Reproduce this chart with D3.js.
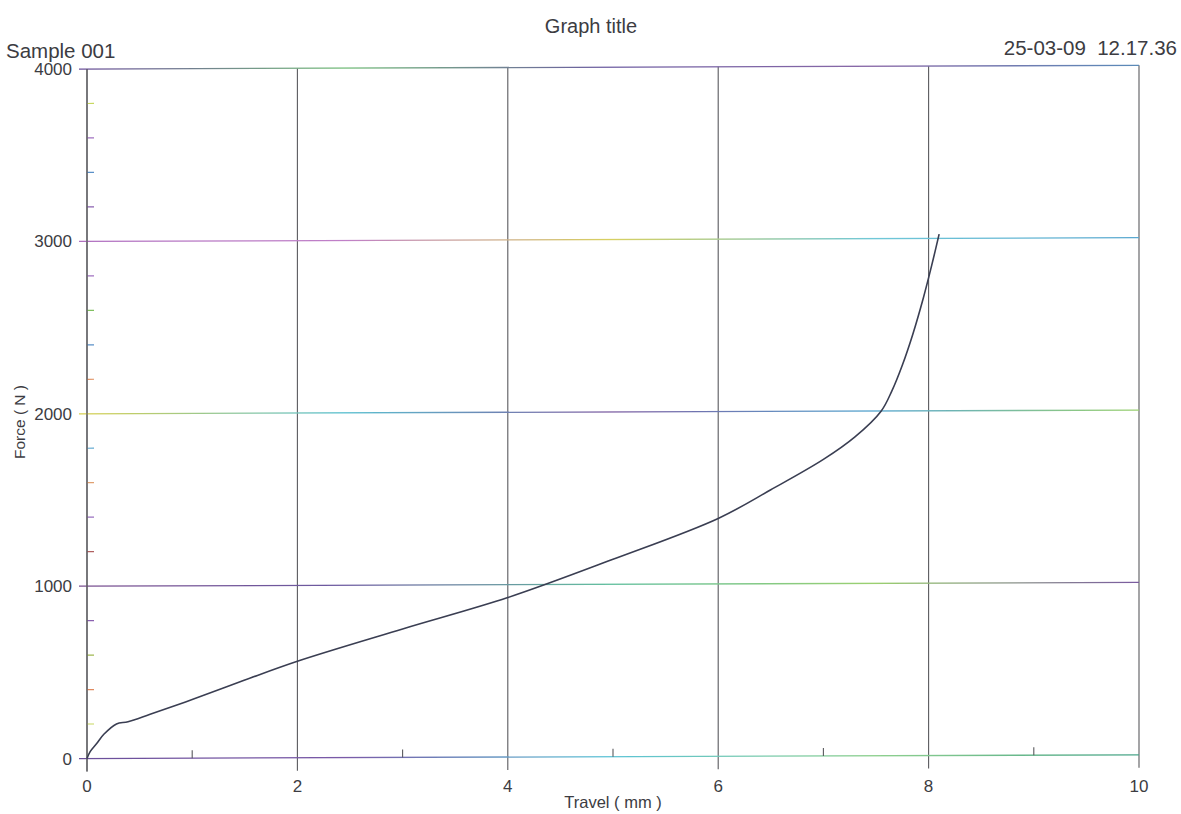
<!DOCTYPE html>
<html>
<head>
<meta charset="utf-8">
<script src="https://cdn.jsdelivr.net/npm/d3@7"></script>
<style>
  html, body { margin: 0; padding: 0; background: #ffffff; }
  svg { display: block; }
  text { font-family: "Liberation Sans", Arial, sans-serif; fill: #3c3c42; }
</style>
</head>
<body>
<svg id="chart" width="1181" height="814"></svg>
<script>
// ---- data ----
const title = "Graph title";
const sampleLabel = "Sample 001";
const stampLabel = "25-03-09\u00a0\u00a012.17.36";
const xLabel = "Travel ( mm )";
const yLabel = "Force ( N )";

const xMajorTicks = [0, 2, 4, 6, 8, 10];
const xMinorTicks = [1, 3, 5, 7, 9];
const yMajorTicks = [0, 1000, 2000, 3000, 4000];
const yMinorTicks = [200, 400, 600, 800, 1200, 1400, 1600, 1800, 2200, 2400, 2600, 2800, 3200, 3400, 3600, 3800];

const travel = [0, 0.03, 0.09, 0.16, 0.28, 0.39, 0.6, 1.0, 1.5, 2.0, 3.0, 4.0, 5.0, 6.0, 6.5, 7.0, 7.3, 7.55, 7.65, 7.75, 7.85, 7.95, 8.03, 8.1];
const force  = [0, 40, 85, 140, 200, 212, 255, 340, 452, 560, 745, 925, 1145, 1380, 1545, 1720, 1850, 2000, 2115, 2265, 2445, 2655, 2845, 3025];

// ---- layout ----
const svg = d3.select("#chart");
const pLeft = 87, pRight = 1139, pTop = 69, pBottom = 758.5;
const x = d3.scaleLinear().domain([0, 10]).range([pLeft, pRight]);
const y = d3.scaleLinear().domain([0, 4000]).range([pBottom, pTop]);

// colour palettes for the scanned rainbow-ish grid lines (style only)
const hGridColors = {
  0:    ["#6b4f9a", "#7a5aa8", "#5bc3d6", "#8fd08f", "#4aa58a"],
  1000: ["#7a5090", "#6c5aa0", "#64c0a0", "#9bd070", "#7a5aa0"],
  2000: ["#d8d050", "#5bc0d0", "#7a5aa0", "#5aa8d0", "#9ad070"],
  3000: ["#b070c0", "#c080c8", "#d8d060", "#70c8d8", "#5aa8d0"],
  4000: ["#6b4f9a", "#7ac080", "#6b5aa0", "#8a6aa8", "#5a8ab8"]
};
const minorColors = ["#c8d860", "#e08a60", "#a0b850", "#8a60b0", "#b06060", "#9a70c0", "#e0a070", "#60a8d0",
                     "#e09060", "#5a90c8", "#80c060", "#a070c0", "#8a60b0", "#5a90c8", "#a070c0", "#c8d860"];

const defs = svg.append("defs");
yMajorTicks.forEach(v => {
  const g = defs.append("linearGradient")
    .attr("id", "hg" + v)
    .attr("gradientUnits", "userSpaceOnUse")
    .attr("x1", pLeft - 8).attr("x2", pRight).attr("y1", 0).attr("y2", 0);
  const cols = hGridColors[v];
  cols.forEach((c, i) => g.append("stop").attr("offset", i / (cols.length - 1)).attr("stop-color", c));
});

// slight scan skew
const plot = svg.append("g").attr("transform", `translate(${pLeft},0) skewY(-0.2) translate(${-pLeft},0)`);

// vertical grid lines (extend below axis)
plot.append("g").selectAll("line").data(xMajorTicks).join("line")
  .attr("x1", d => x(d)).attr("x2", d => x(d))
  .attr("y1", y(4000)).attr("y2", pBottom + 13)
  .attr("stroke", "#5a5a5e").attr("stroke-width", 1.1);

// horizontal grid lines (extend left of axis)
plot.append("g").selectAll("line").data(yMajorTicks).join("line")
  .attr("x1", pLeft - 8).attr("x2", pRight)
  .attr("y1", d => y(d)).attr("y2", d => y(d))
  .attr("stroke", d => `url(#hg${d})`).attr("stroke-width", 1.3);

// minor y ticks (inside)
plot.append("g").selectAll("line").data(yMinorTicks).join("line")
  .attr("x1", pLeft).attr("x2", pLeft + 7)
  .attr("y1", d => y(d)).attr("y2", d => y(d))
  .attr("stroke", (d, i) => minorColors[i % minorColors.length]).attr("stroke-width", 1.2);

// minor x ticks (upward from axis)
plot.append("g").selectAll("line").data(xMinorTicks).join("line")
  .attr("x1", d => x(d)).attr("x2", d => x(d))
  .attr("y1", pBottom).attr("y2", pBottom - 8)
  .attr("stroke", "#5a5a5e").attr("stroke-width", 1.1);

// y axis line extends below 0
plot.append("line")
  .attr("x1", pLeft).attr("x2", pLeft).attr("y1", pTop).attr("y2", pBottom + 13)
  .attr("stroke", "#5a5a5e").attr("stroke-width", 1.2);

// data curve
const pts = travel.map((t, i) => [t, force[i]]);
plot.append("path")
  .datum(pts)
  .attr("fill", "none")
  .attr("stroke", "#3a3e52")
  .attr("stroke-width", 1.6)
  .attr("d", d3.line().x(d => x(d[0])).y(d => y(d[1])).curve(d3.curveCatmullRom.alpha(0.5)));

// tick labels
svg.append("g").selectAll("text").data(yMajorTicks).join("text")
  .attr("x", pLeft - 15).attr("y", d => y(d)).attr("dy", "0.36em")
  .attr("text-anchor", "end").attr("font-size", 17)
  .text(d => d);

svg.append("g").selectAll("text").data(xMajorTicks).join("text")
  .attr("x", d => x(d)).attr("y", 792)
  .attr("text-anchor", "middle").attr("font-size", 17)
  .text(d => d);

// axis titles
svg.append("text").attr("x", (pLeft + pRight) / 2).attr("y", 808)
  .attr("text-anchor", "middle").attr("font-size", 16.5).text(xLabel);

svg.append("text")
  .attr("transform", `translate(25,422) rotate(-90)`)
  .attr("text-anchor", "middle").attr("font-size", 15.5).text(yLabel);

// header texts
svg.append("text").attr("x", 591).attr("y", 33)
  .attr("text-anchor", "middle").attr("font-size", 20).text(title);
svg.append("text").attr("x", 6).attr("y", 58)
  .attr("font-size", 20.5).text(sampleLabel);
svg.append("text").attr("x", 1177).attr("y", 55)
  .attr("text-anchor", "end").attr("font-size", 20.5).text(stampLabel);
</script>
</body>
</html>
